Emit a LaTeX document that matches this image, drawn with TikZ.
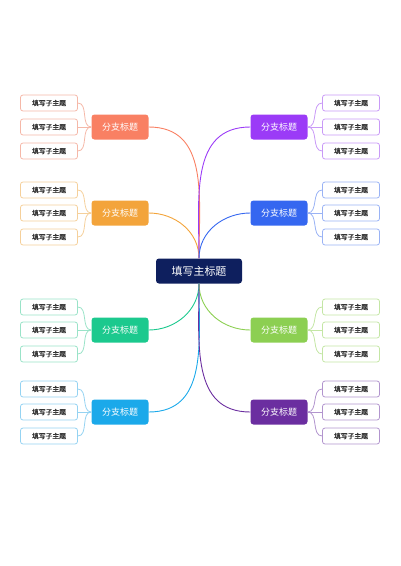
\documentclass[tikz,border=0pt]{standalone}
\usepackage{fontspec}
\newfontfamily\cjk{Noto Sans CJK SC}
\newfontfamily\cjkbold[FakeBold=1.2]{Noto Sans CJK SC}
\usetikzlibrary{arrows.meta}

\definecolor{navy}{HTML}{0E1F5E}
\definecolor{coral}{HTML}{F98063}
\definecolor{coralL}{HTML}{F5B8A8}
\definecolor{amber}{HTML}{F3A43B}
\definecolor{amberL}{HTML}{F5D09B}
\definecolor{mint}{HTML}{1CC98E}
\definecolor{mintL}{HTML}{9AE3C8}
\definecolor{sky}{HTML}{1BA9EA}
\definecolor{skyL}{HTML}{95D3F2}
\definecolor{violet}{HTML}{9B3BF7}
\definecolor{violetL}{HTML}{C99AF7}
\definecolor{royal}{HTML}{3567F0}
\definecolor{royalL}{HTML}{9AB3F5}
\definecolor{lime}{HTML}{8CCF52}
\definecolor{limeL}{HTML}{C4E6A5}
\definecolor{plum}{HTML}{6B2EA0}
\definecolor{plumL}{HTML}{B295CE}
\definecolor{ink}{HTML}{333333}

\begin{document}
\begin{tikzpicture}[x=1pt,y=-1pt,
    main/.style={fill=navy, text=white, rounded corners=3pt, minimum width=86pt, minimum height=25pt, inner sep=0pt, font=\cjk\fontsize{11}{13}\selectfont},
    branch/.style={fill=#1, text=white, rounded corners=3pt, minimum width=57pt, minimum height=25pt, inner sep=0pt, font=\cjk\fontsize{9}{11}\selectfont},
    leaf/.style={draw=#1, fill=white, text=ink, line width=0.8pt, rounded corners=2.5pt, minimum width=57pt, minimum height=16pt, inner sep=0pt, font=\cjkbold\fontsize{6.8}{8}\selectfont},
    trunk/.style={draw=#1, line width=0.9pt},
    twig/.style={draw=#1, line width=0.8pt}]
        \useasboundingbox (0,0) rectangle (400,566);
        \node (T) at (199,271) [main] {填写主标题};

        \node (L1) at (120,127) [branch=coral] {分支标题};
        \node (L2) at (120,213) [branch=amber] {分支标题};
        \node (L3) at (120,330) [branch=mint] {分支标题};
        \node (L4) at (120,412) [branch=sky] {分支标题};
        \node (R1) at (279,127) [branch=violet] {分支标题};
        \node (R2) at (279,213) [branch=royal] {分支标题};
        \node (R3) at (279,330) [branch=lime] {分支标题};
        \node (R4) at (279,412) [branch=plum] {分支标题};

        \node (L1a) at (49,103) [leaf=coralL] {填写子主题};
        \node (L1b) at (49,127) [leaf=coralL] {填写子主题};
        \node (L1c) at (49,151) [leaf=coralL] {填写子主题};
        \node (L2a) at (49,190) [leaf=amberL] {填写子主题};
        \node (L2b) at (49,213) [leaf=amberL] {填写子主题};
        \node (L2c) at (49,237) [leaf=amberL] {填写子主题};
        \node (L3a) at (49,307) [leaf=mintL] {填写子主题};
        \node (L3b) at (49,330) [leaf=mintL] {填写子主题};
        \node (L3c) at (49,354) [leaf=mintL] {填写子主题};
        \node (L4a) at (49,389) [leaf=skyL] {填写子主题};
        \node (L4b) at (49,412) [leaf=skyL] {填写子主题};
        \node (L4c) at (49,436) [leaf=skyL] {填写子主题};
        \node (R1a) at (351,103) [leaf=violetL] {填写子主题};
        \node (R1b) at (351,127) [leaf=violetL] {填写子主题};
        \node (R1c) at (351,151) [leaf=violetL] {填写子主题};
        \node (R2a) at (351,190) [leaf=royalL] {填写子主题};
        \node (R2b) at (351,213) [leaf=royalL] {填写子主题};
        \node (R2c) at (351,237) [leaf=royalL] {填写子主题};
        \node (R3a) at (351,307) [leaf=limeL] {填写子主题};
        \node (R3b) at (351,330) [leaf=limeL] {填写子主题};
        \node (R3c) at (351,354) [leaf=limeL] {填写子主题};
        \node (R4a) at (351,389) [leaf=plumL] {填写子主题};
        \node (R4b) at (351,412) [leaf=plumL] {填写子主题};
        \node (R4c) at (351,436) [leaf=plumL] {填写子主题};

        \draw[trunk=coral] (T.north) to[out=90,in=0,looseness=1.1] (L1.east);
        \draw[trunk=amber] (T.north) to[out=90,in=0] (L2.east);
        \draw[trunk=mint] (T.south) to[out=-90,in=0] (L3.east);
        \draw[trunk=sky] (T.south) to[out=-90,in=0,looseness=1.1] (L4.east);
        \draw[trunk=violet] (T.north) to[out=90,in=180,looseness=1.1] (R1.west);
        \draw[trunk=royal] (T.north) to[out=90,in=180] (R2.west);
        \draw[trunk=lime] (T.south) to[out=-90,in=180] (R3.west);
        \draw[trunk=plum] (T.south) to[out=-90,in=180,looseness=1.1] (R4.west);

        \draw[twig=coralL] (L1.west) to[out=180,in=0] (L1a.east);
        \draw[twig=coralL] (L1.west) -- (L1b.east);
        \draw[twig=coralL] (L1.west) to[out=180,in=0] (L1c.east);
        \draw[twig=amberL] (L2.west) to[out=180,in=0] (L2a.east);
        \draw[twig=amberL] (L2.west) -- (L2b.east);
        \draw[twig=amberL] (L2.west) to[out=180,in=0] (L2c.east);
        \draw[twig=mintL] (L3.west) to[out=180,in=0] (L3a.east);
        \draw[twig=mintL] (L3.west) -- (L3b.east);
        \draw[twig=mintL] (L3.west) to[out=180,in=0] (L3c.east);
        \draw[twig=skyL] (L4.west) to[out=180,in=0] (L4a.east);
        \draw[twig=skyL] (L4.west) -- (L4b.east);
        \draw[twig=skyL] (L4.west) to[out=180,in=0] (L4c.east);
        \draw[twig=violetL] (R1.east) to[out=0,in=180] (R1a.west);
        \draw[twig=violetL] (R1.east) -- (R1b.west);
        \draw[twig=violetL] (R1.east) to[out=0,in=180] (R1c.west);
        \draw[twig=royalL] (R2.east) to[out=0,in=180] (R2a.west);
        \draw[twig=royalL] (R2.east) -- (R2b.west);
        \draw[twig=royalL] (R2.east) to[out=0,in=180] (R2c.west);
        \draw[twig=limeL] (R3.east) to[out=0,in=180] (R3a.west);
        \draw[twig=limeL] (R3.east) -- (R3b.west);
        \draw[twig=limeL] (R3.east) to[out=0,in=180] (R3c.west);
        \draw[twig=plumL] (R4.east) to[out=0,in=180] (R4a.west);
        \draw[twig=plumL] (R4.east) -- (R4b.west);
        \draw[twig=plumL] (R4.east) to[out=0,in=180] (R4c.west);
    \end{tikzpicture}
\end{document}
